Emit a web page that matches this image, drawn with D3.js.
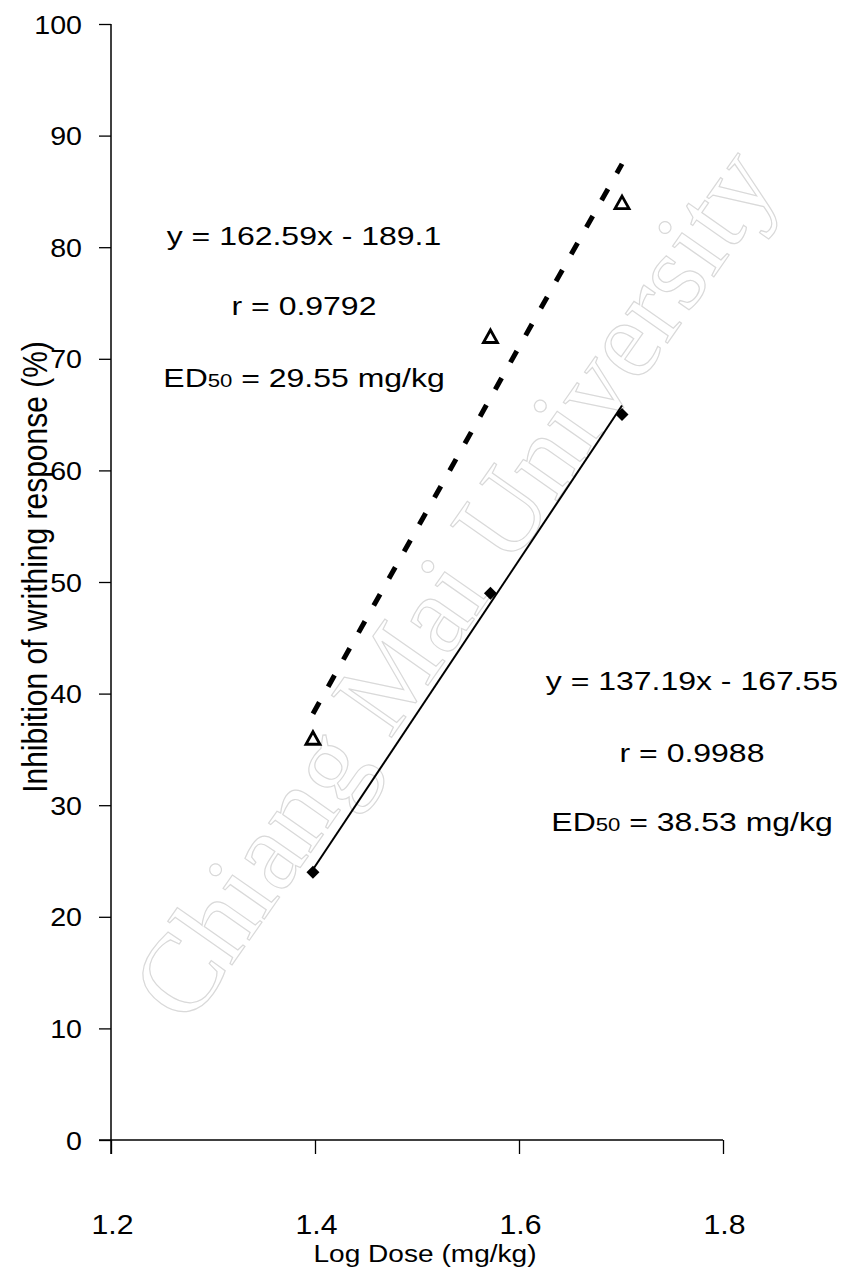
<!DOCTYPE html>
<html>
<head>
<meta charset="utf-8">
<script src="https://cdn.jsdelivr.net/npm/d3@7"></script>
<style>
  body { margin: 0; background: #fff; }
  svg text { font-family: "Liberation Sans", Arial, sans-serif; }
</style>
</head>
<body>
<div id="chart"></div>
<script>
// log dose
var logDose = [1.398, 1.572, 1.701];
// solid diamonds + solid fit line
var seriesA = [24, 49, 65];
var fitA = { slope: 137.19, icpt: -167.55 };
var labelA = ["y = 137.19x - 167.55", "r = 0.9988", "38.53 mg/kg"];
// open triangles + dashed fit line
var seriesB = [36, 72, 84];
var fitB = { slope: 162.59, icpt: -189.1 };
var labelB = ["y = 162.59x - 189.1", "r = 0.9792", "29.55 mg/kg"];

var xTicks = [1.2, 1.4, 1.6, 1.8];
var yTicks = [0, 10, 20, 30, 40, 50, 60, 70, 80, 90, 100];

var W = 847, H = 1279;
var svg = d3.select("#chart").append("svg")
    .attr("width", W).attr("height", H);

// watermark, faint outline text
svg.append("text")
    .attr("transform", "translate(188,1028) rotate(-55)")
    .attr("font-size", 112)
    .attr("fill", "none")
    .attr("stroke", "#d9d9d9")
    .attr("stroke-width", 1.2)
    .style("font-family", "'Liberation Serif', serif")
    .text("Chiang Mai University");

var x = d3.scaleLinear().domain([1.2, 1.8]).range([111, 723]);
var y = d3.scaleLinear().domain([0, 100]).range([1140, 24]);

// the scan is wider than tall, so text gets a horizontal stretch
function stretch(sel, px, py, s) {
    sel.attr("x", null).attr("y", null)
       .attr("transform", "translate(" + px + "," + py + ") scale(" + s + ",1)");
}

// y axis
var yAxis = svg.append("g")
    .attr("transform", "translate(" + x(1.2) + ",0)")
    .call(d3.axisLeft(y).tickValues(yTicks).tickSize(12).tickSizeOuter(0));
// x axis
var xAxis = svg.append("g")
    .attr("transform", "translate(0," + y(0) + ")")
    .call(d3.axisBottom(x).tickValues(xTicks).tickSize(14)
          .tickFormat(d3.format(".1f")).tickSizeOuter(0));

[yAxis, xAxis].forEach(function(a){
    a.selectAll(".tick line").attr("stroke", "#000").attr("stroke-width", 1.3);
    a.selectAll("text").attr("fill", "#000")
        .style("font-family", "'Liberation Sans', Arial, sans-serif");
});
yAxis.select(".domain").attr("stroke", "#000").attr("stroke-width", 1.5)
    .attr("d", "M0," + y(100) + "V" + (y(0) + 14));
xAxis.select(".domain").attr("stroke", "#000").attr("stroke-width", 1.5)
    .attr("d", "M99,0H" + x(1.8));

yAxis.selectAll(".tick text").attr("font-size", 26).attr("dy", "0.35em")
    .each(function(){ stretch(d3.select(this), -29, 0, 1.1); });
xAxis.selectAll(".tick text").attr("font-size", 27).attr("dy", null)
    .each(function(){ stretch(d3.select(this), 1, 94, 1.12); });

// axis titles
var xt = svg.append("text")
    .attr("text-anchor", "middle")
    .attr("font-size", 24).attr("fill", "#000")
    .text("Log Dose (mg/kg)");
stretch(xt, 425, 1262, 1.17);

svg.append("text")
    .attr("transform", "translate(47,567) scale(1.14,1) rotate(-90)")
    .attr("text-anchor", "middle")
    .attr("font-size", 30).attr("fill", "#000")
    .text("Inhibition of writhing response (%)");

// fit lines over the dose range
var x0 = logDose[0], x1 = logDose[logDose.length - 1];
function fitLine(f) {
    return [[x0, f.slope * x0 + f.icpt], [x1, f.slope * x1 + f.icpt]];
}
var line = d3.line().x(function(d){ return x(d[0]); }).y(function(d){ return y(d[1]); });

svg.append("path")
    .attr("d", line(fitLine(fitB)))
    .attr("fill", "none").attr("stroke", "#000")
    .attr("stroke-width", 5).attr("stroke-dasharray", "13,18");
svg.append("path")
    .attr("d", line(fitLine(fitA)))
    .attr("fill", "none").attr("stroke", "#000").attr("stroke-width", 2);

// markers
svg.selectAll(".tri").data(logDose).enter().append("path")
    .attr("class", "tri")
    .attr("transform", function(d, i){ return "translate(" + x(d) + "," + y(seriesB[i]) + ")"; })
    .attr("d", "M0,-6.5L7,6L-7,6Z")
    .attr("fill", "#fff").attr("stroke", "#000").attr("stroke-width", 2.8)
    .attr("stroke-linejoin", "miter");
svg.selectAll(".dia").data(logDose).enter().append("path")
    .attr("class", "dia")
    .attr("transform", function(d, i){ return "translate(" + x(d) + "," + y(seriesA[i]) + ")"; })
    .attr("d", "M0,-6.5L6.5,0L0,6.5L-6.5,0Z")
    .attr("fill", "#000");

// equation blocks
function eqBlock(lbl, cx, ys) {
    var g = svg.append("g").attr("font-size", 26).attr("text-anchor", "middle").attr("fill", "#000");
    stretch(g.append("text").text(lbl[0]), cx, ys[0], 1.23);
    stretch(g.append("text").text(lbl[1]), cx, ys[1], 1.23);
    var t = g.append("text");
    t.append("tspan").text("ED");
    t.append("tspan").attr("font-size", 18).text("50");
    t.append("tspan").text(" = " + lbl[2]);
    stretch(t, cx, ys[2], 1.23);
}
eqBlock(labelB, 304, [245, 315, 387]);
eqBlock(labelA, 692, [690, 762, 831]);
</script>
</body>
</html>
